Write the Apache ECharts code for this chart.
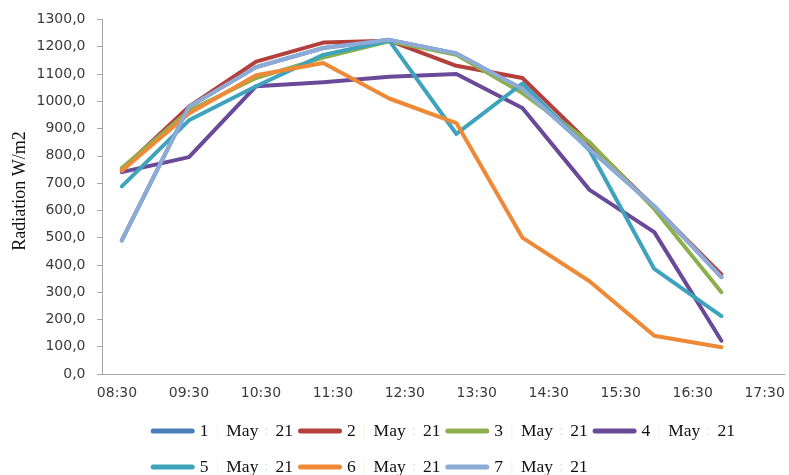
<!DOCTYPE html>
<html>
<head>
<meta charset="utf-8">
<script src="https://cdn.jsdelivr.net/npm/echarts@6/dist/echarts.min.js"></script>
<style>
  html, body { margin: 0; padding: 0; background: #ffffff; }
  #chart { width: 789px; height: 475px; }
</style>
</head>
<body>
<div id="chart"></div>
<script>
// Reading times (clock time of each sample) and hourly axis labels
const readingTimes = ['08:34', '09:30', '10:26', '11:22', '12:17', '13:13', '14:08', '15:04', '15:58', '16:54'];
const xTickLabels = ['08:30', '09:30', '10:30', '11:30', '12:30', '13:30', '14:30', '15:30', '16:30', '17:30'];

// Day labels for each measurement series
const dayLabels = ['1', '2', '3', '4', '5', '6', '7'];
const monthLabel = 'May';
const yearLabel = '21';

// Solar radiation (W/m2) per day
const may1 = [490, 980, 1125, 1195, 1225, 1175, 1045, 825, 615, 355];
const may2 = [750, 980, 1145, 1215, 1222, 1130, 1085, 845, 612, 365];
const may3 = [755, 965, 1085, 1160, 1220, 1170, 1030, 850, 605, 300];
const may4 = [740, 795, 1055, 1070, 1090, 1100, 975, 675, 520, 122];
const may5 = [688, 930, 1055, 1170, 1222, 880, 1065, 820, 385, 212];
const may6 = [745, 955, 1095, 1140, 1010, 920, 500, 340, 140, 98];
const may7 = [490, 980, 1125, 1195, 1225, 1175, 1045, 825, 615, 355];

const dailyValues = [may1, may2, may3, may4, may5, may6, may7];
const seriesColors = ['#4A7EBB', '#B3403D', '#8DB04C', '#6A4A98', '#3FA3BD', '#EE8A37', '#8EAAD6'];

function toMinutes(t) {
  const p = t.split(':');
  return Number(p[0]) * 60 + Number(p[1]);
}
function fmtClock(m) {
  const h = Math.floor(m / 60), mm = Math.round(m - h * 60);
  return String(h).padStart(2, '0') + ':' + String(mm).padStart(2, '0');
}

const names = dayLabels.map(d => d + ' ' + monthLabel + ' ' + yearLabel);

const series = dailyValues.map((vals, i) => ({
  name: names[i],
  type: 'line',
  data: vals.map((v, k) => [toMinutes(readingTimes[k]), v]),
  symbol: 'none',
  color: seriesColors[i],
  lineStyle: { width: 4, color: seriesColors[i], cap: 'round', join: 'round' },
  emphasis: { disabled: true },
  z: 2 + i
}));

const legendRich = {
  n: { width: 9.3, fontFamily: 'Liberation Serif', fontSize: 17.5, color: '#111111' },
  s: { width: 16.7, align: 'center', fontFamily: 'Liberation Serif', fontSize: 14, color: '#f3efdc' },
  m: { width: 33.3, fontFamily: 'Liberation Serif', fontSize: 17.5, color: '#111111' },
  c: { width: 15, align: 'center', fontFamily: 'Liberation Serif', fontSize: 14, color: '#cfe1f1' },
  y: { width: 20.7, fontFamily: 'Liberation Serif', fontSize: 17.5, color: '#111111' }
};
function legendFormatter(name) {
  const p = name.split(' ');
  return '{n|' + p[0] + '}{s||}{m|' + p[1] + '}{c|:}{y|' + p[2] + '}';
}
const capsule = 'path://M2.5,0 L41.5,0 A2.5,2.5 0 0 1 41.5,5 L2.5,5 A2.5,2.5 0 0 1 2.5,0 Z';
function makeLegend(items, top) {
  return {
    data: items,
    left: 150.7,
    top: top,
    orient: 'horizontal',
    icon: capsule,
    itemWidth: 44,
    itemHeight: 5,
    itemGap: 3.3,
    padding: 0,
    selectedMode: false,
    formatter: legendFormatter,
    textStyle: { rich: legendRich, lineHeight: 20, fontSize: 17.5 }
  };
}

const chart = echarts.init(document.getElementById('chart'), null, { renderer: 'canvas' });
chart.setOption({
  animation: false,
  backgroundColor: '#ffffff',
  grid: { left: 102, right: 4, top: 19.4, bottom: 101, containLabel: false },
  legend: [
    makeLegend(names.slice(0, 4), 421),
    makeLegend(names.slice(4), 457)
  ],
  xAxis: {
    type: 'value',
    min: 497.5,
    max: 1067,
    splitLine: { show: false },
    axisLine: { show: true, lineStyle: { color: '#a6a6a6', width: 1 } },
    axisTick: { show: false },
    axisLabel: {
      customValues: xTickLabels.map(toMinutes),
      formatter: v => fmtClock(v),
      margin: 12,
      fontFamily: 'DejaVu Sans',
      fontSize: 14,
      color: '#3a3a3a'
    }
  },
  yAxis: {
    type: 'value',
    min: 0,
    max: 1300,
    interval: 100,
    splitLine: { show: false },
    axisLine: { show: true, lineStyle: { color: '#a6a6a6', width: 1 } },
    axisTick: { show: true, inside: false, length: 5, lineStyle: { color: '#a6a6a6' } },
    axisLabel: {
      formatter: v => v.toFixed(1).replace('.', ','),
      margin: 16.5,
      fontFamily: 'DejaVu Sans',
      fontSize: 14,
      color: '#3a3a3a'
    }
  },
  graphic: [{
    type: 'text',
    x: 20,
    y: 191,
    rotation: Math.PI / 2,
    style: {
      text: 'Radiation W/m2',
      fontFamily: 'Liberation Serif',
      fontSize: 18,
      fill: '#111111',
      align: 'center',
      verticalAlign: 'middle'
    }
  }],
  series: series
});
</script>
</body>
</html>
